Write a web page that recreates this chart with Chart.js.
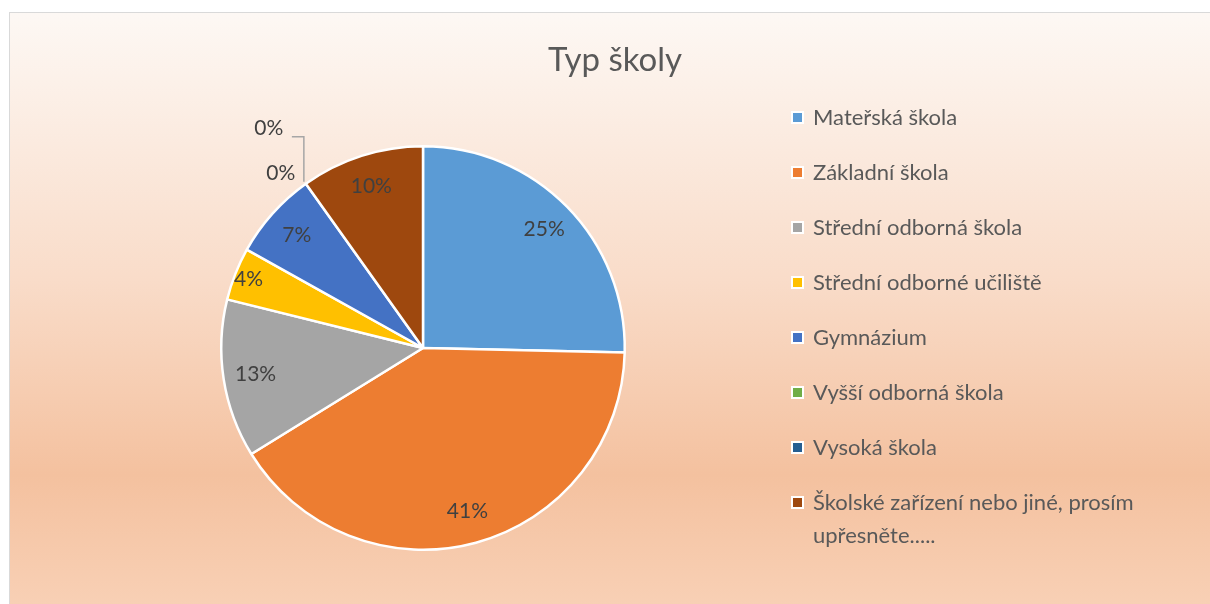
<!DOCTYPE html>
<html>
<head>
<meta charset="utf-8">
<script src="https://cdn.jsdelivr.net/npm/chart.js@4/dist/chart.umd.min.js"></script>
<style>
  html, body { margin: 0; padding: 0; background: #fff; }
  #wrap {
    position: absolute; left: 9px; top: 12px; width: 1201px; height: 592px;
    border-left: 1px solid #d9d9d9; border-top: 1px solid #d9d9d9;
  }
  canvas { display: block; }
</style>
</head>
<body>
<div id="wrap"><canvas id="chart"></canvas></div>
<script>
// data
const titulek = "Typ školy";
const kategorie = [
    "Mateřská škola",
    "Základní škola",
    "Střední odborná škola",
    "Střední odborné učiliště",
    "Gymnázium",
    "Vyšší odborná škola",
    "Vysoká škola",
    ["Školské zařízení nebo jiné, prosím", "upřesněte....."]
];
const pocty = [18, 29, 9, 3, 5, 0, 0, 7];
const barvy = ["#5b9bd5", "#ed7d31", "#a5a5a5", "#ffc000", "#4472c4", "#70ad47", "#255e91", "#9e480e"];

const FONT = "Lato, 'Open Sans', sans-serif";

function procento(v) {
    const total = pocty.reduce((a, b) => a + b, 0);
    return Math.round(v * 100 / total) + "%";
}

// pozadi s prechodem
const pozadi = {
    id: "pozadi",
    beforeDraw(chart) {
        const { ctx, width, height } = chart;
        const g = ctx.createLinearGradient(0, 0, 0, height);
        g.addColorStop(0, "#fdf8f4");
        g.addColorStop(0.45, "#f9dcc9");
        g.addColorStop(0.78, "#f4c19f");
        g.addColorStop(1, "#f8d0b5");
        ctx.save();
        ctx.fillStyle = g;
        ctx.fillRect(0, 0, width, height);
        ctx.restore();
    }
};

// titulek, popisky a legenda
const popisky = {
    id: "popisky",
    afterDraw(chart) {
        const ctx = chart.ctx;
        const total = pocty.reduce((a, b) => a + b, 0);
        ctx.save();

        ctx.fillStyle = "#595959";
        ctx.font = "33px " + FONT;
        ctx.textAlign = "center";
        ctx.textBaseline = "middle";
        ctx.fillText(titulek, 605, 47);

        // hodnoty v dilcich
        const meta = chart.getDatasetMeta(0);
        ctx.font = "21px " + FONT;
        ctx.fillStyle = "#404040";
        const nuly = [];
        meta.data.forEach((arc, i) => {
            const v = pocty[i];
            const mid = (arc.startAngle + arc.endAngle) / 2;
            if (v === 0) { nuly.push(arc); return; }
            const k = v / total < 0.05 ? 0.93 : 0.84;
            const r = arc.outerRadius * k;
            ctx.fillText(procento(v), arc.x + Math.cos(mid) * r, arc.y + Math.sin(mid) * r);
        });

        // nulove hodnoty mimo kolac
        if (nuly.length) {
            const a = nuly[0];
            const ex = a.x + Math.cos(a.startAngle) * a.outerRadius;
            const ey = a.y + Math.sin(a.startAngle) * a.outerRadius;
            ctx.fillText("0%", ex - 25, ey - 11);
            ctx.fillText("0%", ex - 37, ey - 56);
            ctx.strokeStyle = "#a6a6a6";
            ctx.lineWidth = 1.5;
            ctx.beginPath();
            ctx.moveTo(ex - 14, ey - 47);
            ctx.lineTo(ex - 2, ey - 47);
            ctx.lineTo(ex - 2, ey - 2);
            ctx.stroke();
        }

        // legenda
        ctx.textAlign = "left";
        ctx.font = "22px " + FONT;
        kategorie.forEach((t, i) => {
            const y = 105 + i * 55;
            ctx.fillStyle = "#ffffff";
            ctx.fillRect(781, y - 7, 13, 13);
            ctx.fillStyle = barvy[i];
            ctx.fillRect(783, y - 5, 9, 9);
            ctx.fillStyle = "#595959";
            const radky = Array.isArray(t) ? t : [t];
            radky.forEach((r, j) => ctx.fillText(r, 803, y + j * 33));
        });

        ctx.restore();
    }
};

new Chart(document.getElementById("chart"), {
    type: "pie",
    data: {
        labels: kategorie,
        datasets: [{
            data: pocty,
            backgroundColor: barvy,
            borderColor: "#ffffff",
            borderWidth: 2.5
        }]
    },
    options: {
        responsive: true,
        maintainAspectRatio: false,
        animation: false,
        layout: { padding: { left: 210, right: 585, top: 126, bottom: 48 } },
        plugins: {
            legend: { display: false },
            title: { display: false },
            tooltip: { enabled: false }
        }
    },
    plugins: [pozadi, popisky]
});
</script>
</body>
</html>
